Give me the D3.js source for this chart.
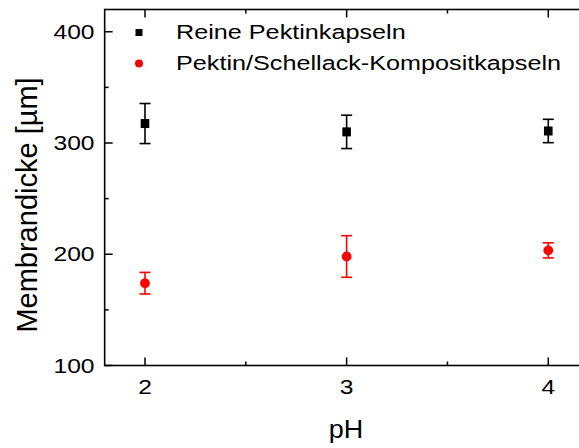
<!DOCTYPE html>
<html><head><meta charset="utf-8">
<script src="https://cdn.jsdelivr.net/npm/d3@7"></script>
<style>body{margin:0;background:#fff}svg{display:block}text{font-family:"Liberation Sans",Arial,sans-serif;fill:#000}</style>
</head><body>
<script>
const phValues = [2, 3, 4];
const seriesNames = ["Reine Pektinkapseln", "Pektin/Schellack-Kompositkapseln"];
const reineValues = [317.5, 310, 310.8];
const reineErrors = [18, 15, 10.5];
const kompositValues = [174, 198, 203.5];
const kompositErrors = [9.7, 18.7, 6.8];
const yTicks = [100, 200, 300, 400];
const xTicks = [2, 3, 4];

const W = 579, H = 448;
const svg = d3.select("body").append("svg").attr("width", W).attr("height", H);
const x = d3.scaleLinear().domain([1.8, 4.2]).range([104.67, 588.6]);
const y = d3.scaleLinear().domain([100, 420]).range([365.5, 9.5]);
const x0 = x.range()[0], x1 = x.range()[1], y0 = y.range()[0], y1 = y.range()[1];
const SX = 1.23;

const g = svg.append("g");
// frame
g.append("rect").attr("x", x0).attr("y", y1).attr("width", x1 - x0).attr("height", y0 - y1)
  .attr("fill", "none").attr("stroke", "#000").attr("stroke-width", 1.6);

// ticks
const xMinor = [2.5, 3.5];
const yMinor = [150, 250, 350];
function tick(x1_, y1_, x2_, y2_) {
  g.append("line").attr("x1", x1_).attr("y1", y1_).attr("x2", x2_).attr("y2", y2_)
    .attr("stroke", "#000").attr("stroke-width", 1.5);
}
xTicks.forEach(t => { tick(x(t), y0, x(t), y0 - 8); tick(x(t), y1, x(t), y1 + 8); });
xMinor.forEach(t => { tick(x(t), y0, x(t), y0 - 4); tick(x(t), y1, x(t), y1 + 4); });
yTicks.forEach(t => { tick(x0, y(t), x0 + 8, y(t)); });
yMinor.forEach(t => { tick(x0, y(t), x0 + 4, y(t)); });

// tick labels
yTicks.forEach(t => {
  g.append("text").attr("transform", `translate(94.5,${y(t) + 7}) scale(${SX},1)`)
    .attr("text-anchor", "end").attr("font-size", 20).text(t);
});
xTicks.forEach(t => {
  g.append("text").attr("transform", `translate(${x(t)},393.5) scale(${SX},1)`)
    .attr("text-anchor", "middle").attr("font-size", 20).text(t);
});

// axis titles
g.append("text").attr("transform", `translate(346,438) scale(1.08,1)`)
  .attr("text-anchor", "middle").attr("font-size", 25).text("pH");
g.append("text").attr("transform", `translate(37,205) rotate(-90)`)
  .attr("text-anchor", "middle").attr("font-size", 29).text("Membrandicke [µm]");

// error bars + markers
function drawSeries(vals, errs, color, shape) {
  vals.forEach((v, i) => {
    const cx = x(phValues[i]);
    const top = y(v + errs[i]), bot = y(v - errs[i]);
    g.append("line").attr("x1", cx).attr("x2", cx).attr("y1", top).attr("y2", bot)
      .attr("stroke", color).attr("stroke-width", 1.6);
    [top, bot].forEach(yy => g.append("line").attr("x1", cx - 5.5).attr("x2", cx + 5.5)
      .attr("y1", yy).attr("y2", yy).attr("stroke", color).attr("stroke-width", 1.6));
    if (shape === "square") {
      g.append("rect").attr("x", cx - 4.3).attr("y", y(v) - 4.5).attr("width", 8.6).attr("height", 9).attr("fill", color);
    } else {
      g.append("circle").attr("cx", cx).attr("cy", y(v)).attr("r", 4.9).attr("fill", color);
    }
  });
}
drawSeries(reineValues, reineErrors, "#000", "square");
drawSeries(kompositValues, kompositErrors, "#ff0000", "circle");

// legend
const leg = g.append("g");
leg.append("rect").attr("x", 135.5).attr("y", 29).attr("width", 7).attr("height", 7).attr("fill", "#000");
leg.append("circle").attr("cx", 139).attr("cy", 63.5).attr("r", 4).attr("fill", "#ff0000");
leg.append("text").attr("transform", `translate(176,39) scale(1.2,1)`).attr("font-size", 21).text(seriesNames[0]);
leg.append("text").attr("transform", `translate(176,70) scale(1.2,1)`).attr("font-size", 21).text(seriesNames[1]);
</script>
</body></html>
